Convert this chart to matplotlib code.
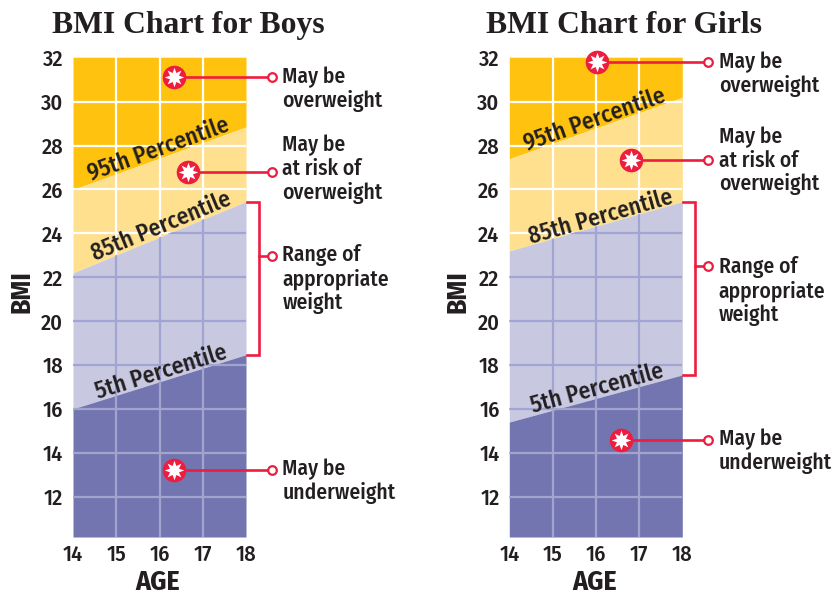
import numpy as np
import matplotlib
matplotlib.use("Agg")
import matplotlib.pyplot as plt

SANS = ['Fira Sans Condensed', 'Archivo Narrow', 'Liberation Sans', 'DejaVu Sans']
plt.rcParams['font.family'] = SANS

titles = ["BMI Chart for Boys", "BMI Chart for Girls"]
ages = [14, 18]
age_ticks = [14, 15, 16, 17, 18]
bmi_ticks = [12, 14, 16, 18, 20, 22, 24, 26, 28, 30, 32]

boys_p95 = [26.0, 28.85]
boys_p85 = [22.2, 25.45]
boys_p5 = [16.0, 18.47]
girls_p95 = [27.4, 30.2]
girls_p85 = [23.2, 25.45]
girls_p5 = [15.4, 17.55]

percentile_names = ["95th Percentile", "85th Percentile", "5th Percentile"]
boys_label_xy = [(15.97, 27.85), (16.04, 24.3), (16.03, 17.67)]
girls_label_xy = [(15.97, 29.2), (16.12, 24.76), (16.04, 16.94)]

boys_markers = [(16.33, 31.12), (16.65, 26.8), (16.33, 13.23)]
girls_markers = [(16.03, 31.8), (16.81, 27.36), (16.58, 14.6)]

boys_notes = [("May be\noverweight", 31.12), ("May be\nat risk of\noverweight", 28.0),
              ("Range of\nappropriate\nweight", 23.0), ("May be\nunderweight", 13.23)]
girls_notes = [("May be\noverweight", 31.8), ("May be\nat risk of\noverweight", 28.38),
               ("Range of\nappropriate\nweight", 22.45), ("May be\nunderweight", 14.6)]
boys_range_mid = 22.96
girls_range_mid = 22.5

C_TOP = "#FFC20E"
C_RISK = "#FFE08F"
C_OK = "#C8C8E0"
C_LOW = "#7375B1"
C_GRID_OK = "#A2A5D3"
C_GRID_LOW = "#A3A4CE"
C_RED = "#EE1C3E"
C_TEXT = "#231F20"

W, H = 832, 595
YMIN, YMAX = 10.16, 32.03
fig = plt.figure(figsize=(W / 100, H / 100), dpi=100, facecolor="white")
panels = [
    (73, titles[0], boys_p95, boys_p85, boys_p5, boys_label_xy, boys_markers, boys_notes, boys_range_mid, 188),
    (509.3, titles[1], girls_p95, girls_p85, girls_p5, girls_label_xy, girls_markers, girls_notes, girls_range_mid, 624.5),
]
PX_X = 173 / 4
PX_Y = 479.8 / (YMAX - YMIN)

for left, title, p95, p85, p5, lab_xy, markers, notes, mid, title_x in panels:
    ax = fig.add_axes([left / W, 1 - 537 / H, 173 / W, 479.8 / H])
    ax.set_xlim(14, 18)
    ax.set_ylim(YMIN, YMAX)
    for s in ax.spines.values():
        s.set_visible(False)
    ax.tick_params(length=0, labelsize=16, labelcolor=C_TEXT)
    ax.tick_params(axis='x', pad=5)
    ax.tick_params(axis='y', pad=7)
    ax.set_xticks(age_ticks)
    ax.set_yticks(bmi_ticks)
    for lab in ax.get_xticklabels() + ax.get_yticklabels():
        lab.set_fontweight('medium')

    ax.fill_between(ages, p95, YMAX, color=C_TOP, lw=0, zorder=1)
    ax.fill_between(ages, p85, p95, color=C_RISK, lw=0, zorder=1)
    ax.vlines(age_ticks[1:-1], YMIN, YMAX, color="white", lw=1.6, zorder=2)
    ax.hlines(bmi_ticks[:-1], 14, 18, color="white", lw=1.6, zorder=2)

    ok = ax.fill_between(ages, p5, p85, color=C_OK, lw=0, zorder=3)
    low = ax.fill_between(ages, YMIN, p5, color=C_LOW, lw=0, zorder=3)
    for poly, col in ((ok, C_GRID_OK), (low, C_GRID_LOW)):
        v = ax.vlines(age_ticks[1:-1], YMIN, YMAX, color=col, lw=1.6, zorder=4)
        h = ax.hlines(bmi_ticks[:-1], 14, 18, color=col, lw=1.6, zorder=4)
        clip = poly.get_paths()[0]
        v.set_clip_path(clip, ax.transData)
        h.set_clip_path(clip, ax.transData)

    for name, (x, y), line in zip(percentile_names, lab_xy, (p95, p85, p5)):
        angle = np.degrees(np.arctan((line[1] - line[0]) * PX_Y / (4 * PX_X)))
        ax.text(x, y, name, fontsize=17, fontweight='medium', color=C_TEXT, rotation=angle,
                rotation_mode='anchor', ha='center', va='center', zorder=6)

    end_x = 18.6
    for mx, my in markers:
        ax.plot([mx, end_x], [my, my], color=C_RED, lw=1.9, clip_on=False, zorder=7)
        ax.plot([end_x], [my], 'o', ms=6.2, mfc="white", mec=C_RED, mew=1.6, clip_on=False, zorder=8)
        ax.plot([mx], [my], 'o', ms=17, mfc=C_RED, mec=C_RED, mew=0, clip_on=False, zorder=8)
        ax.plot([mx], [my], marker=(8, 1, 0), ms=14, mfc="white", mec="white", mew=0, clip_on=False, zorder=9)

    bx = 18.3
    ax.plot([18.02, bx, bx, 18.02], [p85[1], p85[1], p5[1], p5[1]], color=C_RED, lw=1.9,
            solid_joinstyle='miter', clip_on=False, zorder=7)
    ax.plot([bx, end_x], [mid, mid], color=C_RED, lw=1.9, clip_on=False, zorder=7)
    ax.plot([end_x], [mid], 'o', ms=6.2, mfc="white", mec=C_RED, mew=1.6, clip_on=False, zorder=8)

    for txt, y in notes:
        ax.text(18.84, y + 0.5, txt, fontsize=15.5, fontweight='medium', color=C_TEXT, ha='left', va='top',
                linespacing=1.13, clip_on=False, zorder=8)

    fig.text((left - 51.5) / W, 1 - 292 / H, "BMI", rotation=90, fontsize=20, fontweight='bold',
             color=C_TEXT, ha='center', va='center')
    fig.text((left + 85) / W, 1 - 582.5 / H, "AGE", fontsize=20, fontweight='bold',
             color=C_TEXT, ha='center', va='center')
    fig.text(title_x / W, 1 - 33 / H, title, family=['Liberation Serif'], fontsize=22.8, fontweight='bold',
             color=C_TEXT, ha='center', va='baseline')

fig.savefig("out.png", dpi=100, facecolor="white")
